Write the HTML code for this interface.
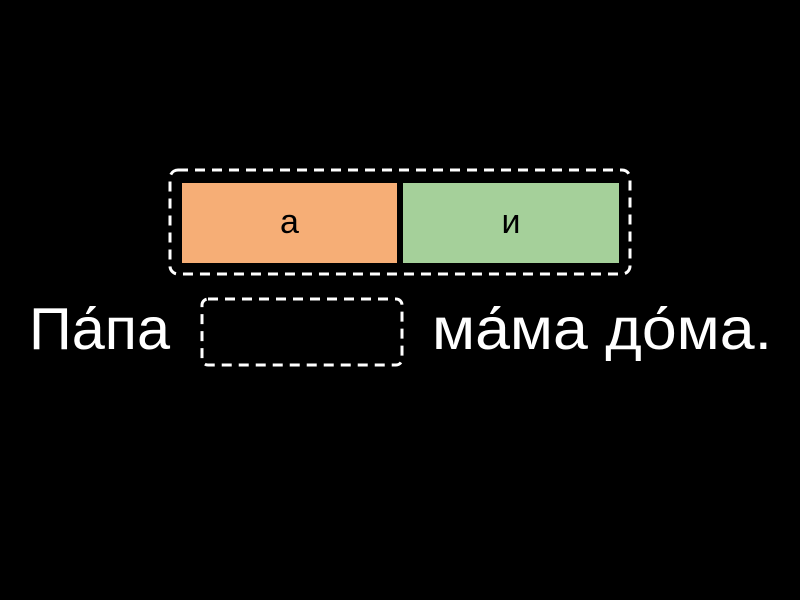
<!DOCTYPE html>
<html><head><style>body{margin:0;background:#000;width:800px;height:600px;overflow:hidden}</style></head>
<body>
<svg width="800" height="600" xmlns="http://www.w3.org/2000/svg" style="display:block">
<rect width="800" height="600" fill="#000"/>
<rect x="170" y="170" width="460" height="104" rx="8" fill="none" stroke="#fff" stroke-width="3" stroke-dasharray="10,7"/>
<rect x="182" y="183" width="215" height="80" fill="#f6ae76"/>
<rect x="403" y="183" width="216" height="80" fill="#a5d09a"/>
<text x="289.5" y="233" font-family="Liberation Sans, sans-serif" font-size="34" text-anchor="middle" fill="#000">а</text>
<text x="511" y="233" font-family="Liberation Sans, sans-serif" font-size="34" text-anchor="middle" fill="#000">и</text>
<rect x="202" y="299" width="200" height="66" rx="6" fill="none" stroke="#fff" stroke-width="3" stroke-dasharray="10,7"/>
<text x="29" y="349" font-family="Liberation Sans, sans-serif" font-size="59" fill="#fff" textLength="141" lengthAdjust="spacingAndGlyphs">Па́па</text>
<text x="432" y="349" font-family="Liberation Sans, sans-serif" font-size="59" fill="#fff" textLength="340" lengthAdjust="spacingAndGlyphs">ма́ма до́ма.</text>
</svg>
</body></html>
